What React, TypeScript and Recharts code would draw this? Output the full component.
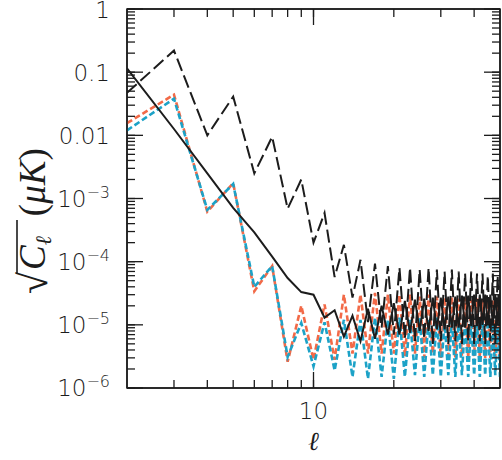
import React from 'react';
import { LineChart, Line, XAxis, YAxis, ReferenceArea } from 'recharts';

const ell = [2,3,4,5,6,7,8,9,10,11,12,13,14,15,16,17,18,19,20,21,22,23,24,25,26,27,28,29,30,31,32,33,34,35,36,37,38,39,40,41,42,43,44,45,46,47,48,49,50];

const blackDashed = [0.047,0.22,0.010,0.041,2.5e-3,9.5e-3,6.9e-4,2.0e-3,2.0e-4,5.9e-4,5.7e-5,1.85e-4,2.7e-5,1.07e-4,1.1e-5,9.3e-5,9e-6,8.5e-5,7e-6,8e-5,6e-6,8e-5,5.5e-6,7.5e-5,6e-6,8e-5,5e-6,7.5e-5,5.5e-6,7e-5,5e-6,7.5e-5,5.5e-6,7e-5,5e-6,6.5e-5,5.5e-6,7e-5,5e-6,6.5e-5,5.5e-6,6.5e-5,5e-6,6e-5,5.5e-6,6.5e-5,5e-6,6e-5,5.5e-6];

const blackSolid = [0.115,0.0126,2.5e-3,7.1e-4,2.9e-4,1.2e-4,5.5e-5,3.3e-5,3e-5,1.3e-5,1.7e-5,6.5e-6,1.4e-5,5.5e-6,1.8e-5,6e-6,2e-5,7e-6,2.2e-5,7e-6,2.4e-5,7.5e-6,2.5e-5,8e-6,2.6e-5,8e-6,2.7e-5,8.5e-6,2.7e-5,8.5e-6,2.8e-5,9e-6,2.8e-5,9e-6,2.9e-5,9e-6,2.9e-5,9.5e-6,3e-5,9.5e-6,3e-5,1e-5,3e-5,1e-5,3e-5,1e-5,3e-5,1e-5,3e-5];

const orange = [0.0156,0.044,6.2e-4,1.75e-3,3.4e-5,8.5e-5,2.6e-6,2.0e-5,2.8e-6,2.1e-5,2.8e-6,3e-5,3.5e-6,3e-5,3.5e-6,3.2e-5,3.5e-6,3e-5,3.5e-6,3e-5,3.2e-6,3e-5,3.5e-6,2.8e-5,3e-6,3e-5,3.5e-6,2.8e-5,3e-6,2.7e-5,3.2e-6,2.8e-5,3e-6,2.6e-5,3.2e-6,2.7e-5,3e-6,2.5e-5,3.2e-6,2.6e-5,3e-6,2.5e-5,3e-6,2.4e-5,3e-6,2.5e-5,3e-6,2.4e-5,3e-6];

const cyan = [0.012,0.038,6.6e-4,1.7e-3,4e-5,8.5e-5,3.1e-6,1.07e-5,2.2e-6,1.1e-5,1.9e-6,1.2e-5,1.5e-6,1.2e-5,1.4e-6,1.3e-5,1.5e-6,1.2e-5,1.4e-6,1.3e-5,1.5e-6,1.2e-5,1.6e-6,1.3e-5,1.5e-6,1.2e-5,1.6e-6,1.3e-5,1.5e-6,1.2e-5,1.6e-6,1.25e-5,1.5e-6,1.2e-5,1.6e-6,1.25e-5,1.5e-6,1.2e-5,1.6e-6,1.2e-5,1.5e-6,1.2e-5,1.6e-6,1.15e-5,1.5e-6,1.2e-5,1.6e-6,1.1e-5,1.5e-6];

const xMajorTicks = [10];
const xMinorTicks = [3,4,5,6,7,8,9,20,30,40];
const yMajorTicks = [1,0.1,0.01,1e-3,1e-4,1e-5,1e-6];
const yMajorLabels = ['1','0.1','0.01','10|−3','10|−4','10|−5','10|−6'];
const yMinorMultipliers = [2,3,4,5,6,7,8,9];
const yDecades = [1e-6,1e-5,1e-4,1e-3,1e-2,1e-1];
const xTitle = 'ℓ';

const yMinorTicks: number[] = [];
yDecades.forEach((d) => yMinorMultipliers.forEach((m) => yMinorTicks.push(m * d)));
const xTicks = [...xMinorTicks, ...xMajorTicks].sort((a, b) => a - b);
const yTicks = [...yMajorTicks, ...yMinorTicks].sort((a, b) => a - b);

const data = ell.map((l, i) => ({
  l,
  dashed: blackDashed[i],
  solid: blackSolid[i],
  orange: orange[i],
  cyan: cyan[i],
}));

const INK = '#1c1c1c';
const FONT = '"DejaVu Sans", sans-serif';
const SERIF = '"Liberation Serif", "DejaVu Serif", serif';
const TICK_LINE = { stroke: INK, strokeWidth: 1.3 };
const AXIS_LINE = { stroke: INK, strokeWidth: 1.5 };

const isXMajor = (v: number) => xMajorTicks.includes(v);
const majorIndex = (v: number) => yMajorTicks.findIndex((t) => Math.abs(t - v) / t < 1e-6);

const YTitle = () => (
  <g transform="translate(45,294) rotate(-90)">
    <text x={0} y={2} fontFamily={SERIF} fontSize={40} fill={INK}>√</text>
    <line x1={20} y1={-28} x2={74} y2={-28} stroke={INK} strokeWidth={1.6} />
    <text x={24} y={0} fontFamily={SERIF} fontStyle="italic" fontSize={37} fill={INK}>
      C
      <tspan fontSize={22} dy={6}>ℓ</tspan>
      <tspan dy={-6} dx={20} fontStyle="normal">(</tspan>
      <tspan>μK</tspan>
      <tspan fontStyle="normal">)</tspan>
    </text>
  </g>
);

const XTickBottom = (props: any) => {
  const { x, y, payload } = props;
  const major = isXMajor(payload.value);
  const xx = Number(x);
  const yy = Number(y);
  return (
    <g>
      {major ? <line x1={xx} y1={yy} x2={xx} y2={yy - 16} stroke={INK} strokeWidth={1.3} /> : null}
      {major ? (
        <text x={xx} y={yy + 31} textAnchor="middle" fontSize={23} fontFamily={FONT} fontWeight={300} fill={INK}>
          {String(payload.value)}
        </text>
      ) : null}
      {major ? (
        <text x={xx} y={yy + 62} textAnchor="middle" fontFamily='"DejaVu Serif", serif' fontStyle="italic" fontSize={26} fill={INK}>
          {xTitle}
        </text>
      ) : null}
    </g>
  );
};

const XTickTop = (props: any) => {
  const { x, y, payload } = props;
  const major = isXMajor(payload.value);
  const xx = Number(x);
  const yy = Number(y);
  return <g>{major ? <line x1={xx} y1={yy} x2={xx} y2={yy + 16} stroke={INK} strokeWidth={1.3} /> : null}</g>;
};

const YTickLeft = (props: any) => {
  const { x, y, payload } = props;
  const idx = majorIndex(payload.value);
  const major = idx >= 0;
  const xx = Number(x);
  const yy = Number(y);
  let label: React.ReactNode = null;
  if (major) {
    const s = yMajorLabels[idx];
    if (s.includes('|')) {
      const [base, exp] = s.split('|');
      label = (
        <text x={xx - 17} y={yy + 8} textAnchor="end" fontSize={23} fontFamily={FONT} fontWeight={300} fill={INK}>
          {base}
          <tspan fontSize={16} dy={-9}>{exp}</tspan>
        </text>
      );
    } else {
      label = (
        <text x={xx - 17} y={yy + 9} textAnchor="end" fontSize={23} fontFamily={FONT} fontWeight={300} fill={INK}>
          {s}
        </text>
      );
    }
  }
  return (
    <g>
      {major ? <line x1={xx} y1={yy} x2={xx + 16} y2={yy} stroke={INK} strokeWidth={1.3} /> : null}
      {label}
      {idx === 0 ? <YTitle /> : null}
    </g>
  );
};

const YTickRight = (props: any) => {
  const { x, y, payload } = props;
  const major = majorIndex(payload.value) >= 0;
  const xx = Number(x);
  const yy = Number(y);
  return <g>{major ? <line x1={xx} y1={yy} x2={xx - 16} y2={yy} stroke={INK} strokeWidth={1.3} /> : null}</g>;
};

export default function App() {
  return (
    <div style={{ position: 'absolute', left: 0, top: 0, width: 502, height: 460, background: '#fff' }}>
      <LineChart width={502} height={460} data={data} margin={{ top: -11, right: -18, bottom: 0, left: 0 }}>
        <XAxis dataKey="l" type="number" scale="log" domain={[2, 50]} allowDataOverflow ticks={xTicks} interval={0} tickSize={-8} tickMargin={8} tickLine={TICK_LINE} tick={<XTickBottom />} axisLine={AXIS_LINE} height={72} />
        <XAxis xAxisId="t" dataKey="l" type="number" scale="log" domain={[2, 50]} allowDataOverflow ticks={xTicks} interval={0} tickSize={-8} tickMargin={8} tickLine={TICK_LINE} tick={<XTickTop />} axisLine={AXIS_LINE} height={20} orientation="top" />
        <YAxis type="number" scale="log" domain={[1e-6, 1]} allowDataOverflow ticks={yTicks} interval={0} tickSize={-8} tickMargin={8} tickLine={TICK_LINE} tick={<YTickLeft />} axisLine={AXIS_LINE} width={127} />
        <YAxis yAxisId="r" type="number" scale="log" domain={[1e-6, 1]} allowDataOverflow ticks={yTicks} interval={0} tickSize={-8} tickMargin={8} tickLine={TICK_LINE} tick={<YTickRight />} axisLine={AXIS_LINE} width={20} orientation="right" />
        <ReferenceArea x1={2} x2={50} y1={1e-6} y2={1} fill="none" stroke={INK} strokeWidth={1.5} ifOverflow="visible" />
        <Line dataKey="orange" type="linear" stroke="#F26A48" strokeWidth={2.6} strokeDasharray="6 3" dot={false} isAnimationActive={false} />
        <Line dataKey="cyan" type="linear" stroke="#1CA2C7" strokeWidth={2.6} strokeDasharray="6 3" dot={false} isAnimationActive={false} />
        <Line dataKey="solid" type="linear" stroke={INK} strokeWidth={2} dot={false} isAnimationActive={false} />
        <Line dataKey="dashed" type="linear" stroke={INK} strokeWidth={2} strokeDasharray="13 5" dot={false} isAnimationActive={false} />
      </LineChart>
    </div>
  );
}
